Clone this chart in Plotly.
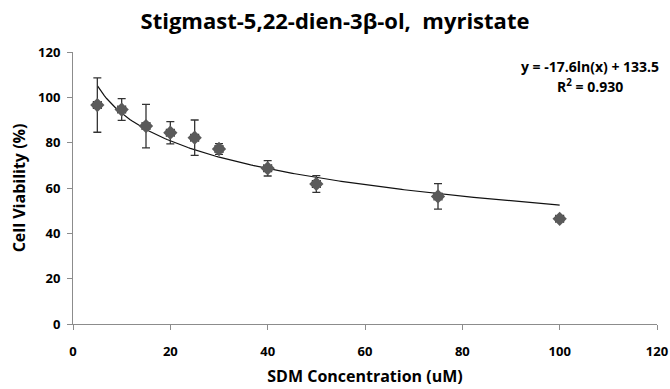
import numpy as np
import plotly.graph_objects as go

# Data
conc = [5, 10, 15, 20, 25, 30, 40, 50, 75, 100]
viability = [96.6, 94.6, 87.3, 84.4, 82.2, 77.2, 68.7, 61.8, 56.3, 46.4]
err_y = [12.0, 4.8, 9.6, 4.9, 7.8, 2.4, 3.4, 3.7, 5.6, 1.0]
err_x = [0.8] * len(conc)

# Logarithmic trendline as stated on the chart
slope = -17.6
intercept = 133.5
r2 = 0.930

x_fit = np.linspace(min(conc), max(conc), 200)
y_fit = slope * np.log(x_fit) + intercept

font_family = "'Open Sans', sans-serif"

fig = go.Figure()
fig.add_trace(go.Scatter(
    x=x_fit, y=y_fit, mode="lines",
    line=dict(color="#111111", width=1.2),
    hoverinfo="skip", showlegend=False,
))
fig.add_trace(go.Scatter(
    x=conc, y=viability, mode="markers",
    marker=dict(symbol="diamond", size=11, color="#5a5a5a"),
    error_y=dict(type="data", array=err_y, visible=True, color="#333333",
                 thickness=1.3, width=4),
    error_x=dict(type="data", array=err_x, visible=True, color="#333333",
                 thickness=1.3, width=4),
    showlegend=False,
))

ticks = [0, 20, 40, 60, 80, 100, 120]

fig.update_layout(
    width=670, height=389,
    margin=dict(l=73, r=13, t=52, b=65),
    paper_bgcolor="white", plot_bgcolor="white",
    font=dict(family=font_family, color="black"),
    title=dict(text="<b>Stigmast-5,22-dien-3β-ol,  myristate</b>",
               x=0.5, xanchor="center", y=0.945, yanchor="middle",
               font=dict(size=22, family=font_family, color="black")),
    xaxis=dict(range=[0, 120], tickvals=ticks,
               ticktext=["<b>%d</b>" % v for v in ticks],
               showgrid=False, zeroline=False, automargin=False,
               showline=True, linecolor="#8c8c8c", linewidth=1,
               ticks="outside", ticklen=5, tickcolor="#8c8c8c",
               ticklabelstandoff=10,
               tickfont=dict(size=13, color="black"),
               title=dict(text="<b>SDM Concentration (uM)</b>", standoff=12,
                          font=dict(size=16, color="black"))),
    yaxis=dict(range=[0, 120], tickvals=ticks,
               ticktext=["<b>%d</b>" % v for v in ticks],
               showgrid=False, zeroline=False, automargin=False,
               showline=True, linecolor="#8c8c8c", linewidth=1,
               ticks="outside", ticklen=5, tickcolor="#8c8c8c",
               ticklabelstandoff=4,
               tickfont=dict(size=13, color="black"),
               title=dict(text="<b>Cell Viability (%)</b>", standoff=8,
                          font=dict(size=16, color="black"))),
    annotations=[
        dict(x=0.885, y=0.945, xref="paper", yref="paper",
             text="<b>y = %.1fln(x) + %.1f</b>" % (slope, intercept),
             showarrow=False, xanchor="center", yanchor="middle",
             font=dict(size=14, color="black")),
        dict(x=0.885, y=0.875, xref="paper", yref="paper",
             text="<b>R<sup>2</sup> = %.3f</b>" % r2,
             showarrow=False, xanchor="center", yanchor="middle",
             font=dict(size=14, color="black")),
    ],
)

fig.write_html("out.html")
